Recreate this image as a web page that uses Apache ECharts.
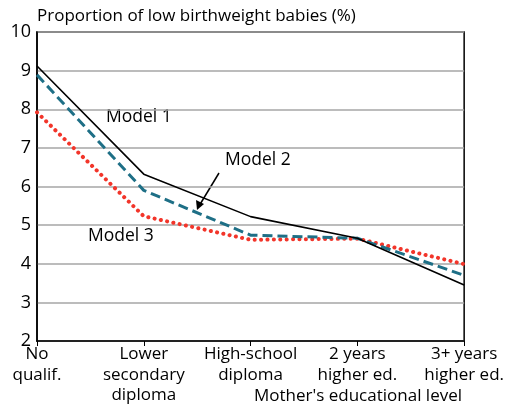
<!DOCTYPE html>
<html>
<head>
<meta charset="utf-8">
<script src="https://cdn.jsdelivr.net/npm/echarts@6/dist/echarts.min.js"></script>
<style>
  html, body { margin: 0; padding: 0; background: #fff; }
  #chart { width: 507px; height: 408px; }
</style>
</head>
<body>
<div id="chart"></div>
<script>
"use strict"
var categories = ['No\nqualif.', 'Lower\nsecondary\ndiploma', 'High-school\ndiploma', '2 years\nhigher ed.', '3+ years\nhigher ed.'];
var model1 = [9.12, 6.32, 5.22, 4.66, 3.45];
var model2 = [8.89, 5.9, 4.74, 4.66, 3.7];
var model3 = [7.92, 5.23, 4.62, 4.65, 3.99];
var yTicks = [2, 10, 1];

var FONT = 'Open Sans';

var chart = echarts.init(document.getElementById('chart'));
var option = {
    backgroundColor: '#fff',
    animation: false,
    title: {
        text: 'Proportion of low birthweight babies (%)',
        left: 32,
        top: 3,
        textStyle: { fontFamily: FONT, fontWeight: 'normal', fontSize: 17, color: '#000' }
    },
    grid: { left: 37, right: 42, top: 32, bottom: 67, show: true, borderColor: '#000', borderWidth: 1.5 },
    xAxis: {
        type: 'category',
        data: categories,
        boundaryGap: false,
        axisLine: { lineStyle: { color: '#000', width: 1.5 } },
        axisTick: { show: true, alignWithLabel: true, length: 5, lineStyle: { color: '#000' } },
        axisLabel: { interval: 0, margin: 3, color: '#000', fontFamily: FONT, fontSize: 17, lineHeight: 20.5 },
        splitLine: { show: false }
    },
    yAxis: {
        type: 'value',
        min: yTicks[0],
        max: yTicks[1],
        interval: yTicks[2],
        axisLine: { show: true, lineStyle: { color: '#000', width: 1.5 } },
        axisTick: { show: false },
        axisLabel: { color: '#000', fontFamily: FONT, fontSize: 18, margin: 6 },
        splitLine: { lineStyle: { color: '#a6a6a6', width: 1.5 } }
    },
    series: [{
        name: 'Model 1',
        type: 'line',
        data: model1,
        symbol: 'none',
        z: 3,
        lineStyle: { color: '#000', width: 1.6 }
    }, {
        name: 'Model 2',
        type: 'line',
        data: model2,
        symbol: 'none',
        z: 2,
        lineStyle: { color: '#1e6f86', width: 3, type: [10, 5] }
    }, {
        name: 'Model 3',
        type: 'line',
        data: model3,
        symbol: 'none',
        z: 1,
        lineStyle: { color: '#f2352a', width: 4, type: [0.1, 6.3], cap: 'round' }
    }],
    graphic: [
        { type: 'text', left: 106, top: 108, style: { text: 'Model 1', font: '17.5px "Open Sans"', fill: '#000' } },
        { type: 'text', left: 225, top: 151, style: { text: 'Model 2', font: '17.5px "Open Sans"', fill: '#000' } },
        { type: 'text', left: 88, top: 227, style: { text: 'Model 3', font: '17.5px "Open Sans"', fill: '#000' } },
        { type: 'line', shape: { x1: 219, y1: 173, x2: 199, y2: 206 }, style: { stroke: '#000', lineWidth: 1.5 } },
        { type: 'polygon', shape: { points: [[197, 210], [196, 200], [204, 204]] }, style: { fill: '#000' } },
        { type: 'text', left: 254, top: 388, style: { text: "Mother's educational level", font: '17px "Open Sans"', fill: '#000' } }
    ]
};
chart.setOption(option);
</script>
</body>
</html>
